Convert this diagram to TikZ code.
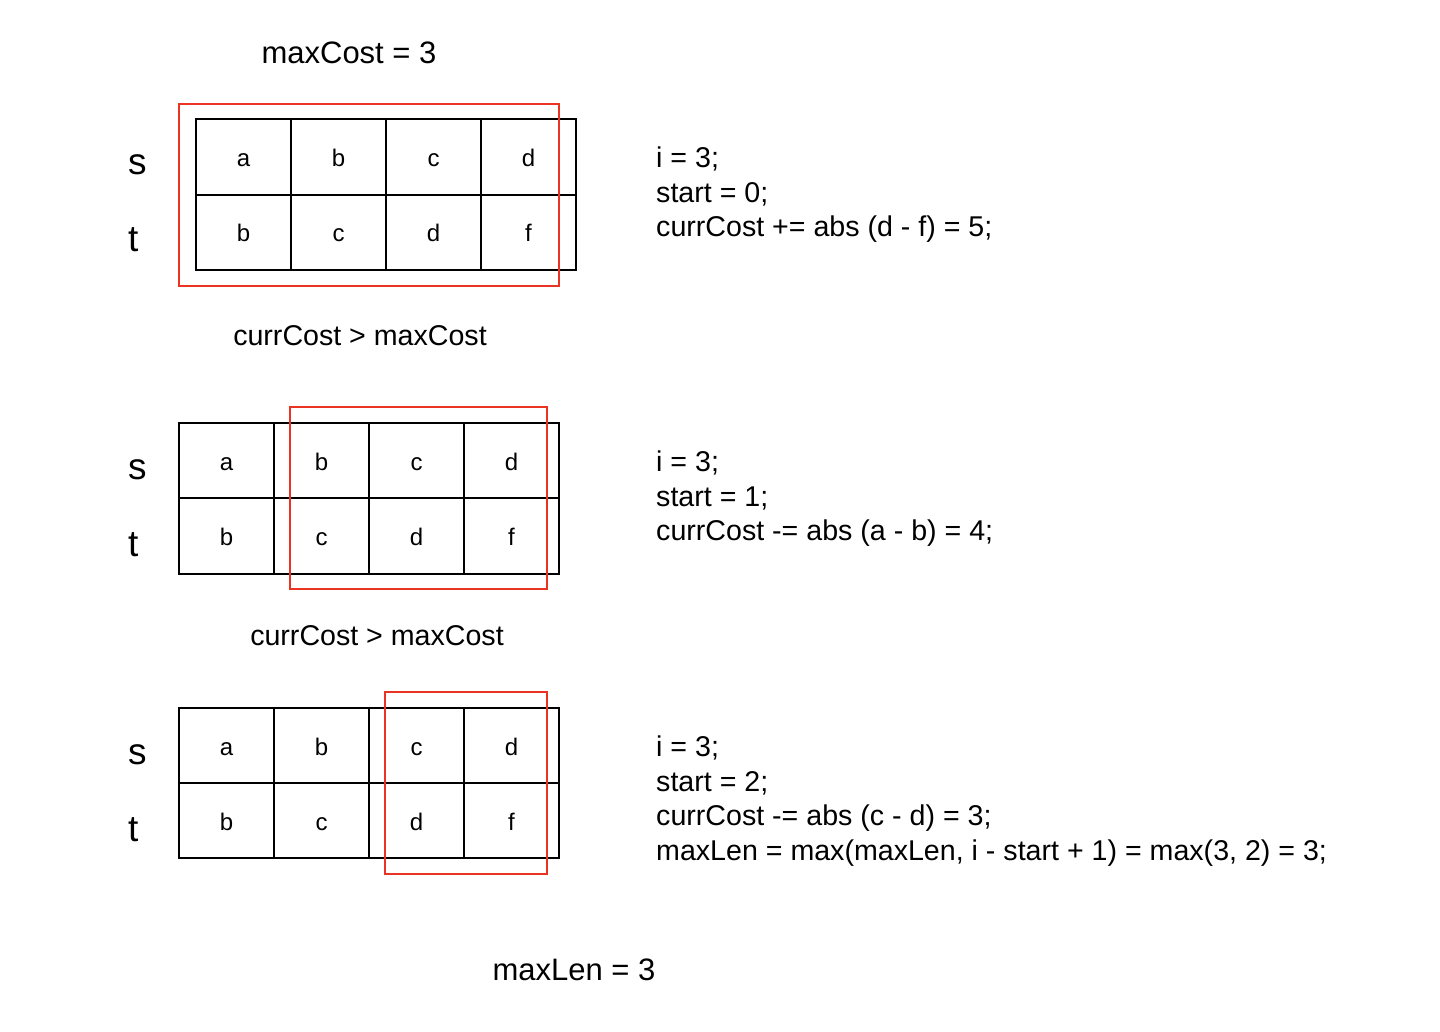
\documentclass[tikz,border=0pt]{standalone}
\usepackage{fontspec}
\setmainfont{Liberation Sans}
\usepackage{tikz}
\usetikzlibrary{positioning}
\definecolor{winred}{RGB}{234, 51, 35}

\begin{document}
\begin{tikzpicture}[
    x=1pt, y=-1pt,
    cell/.style={rectangle, draw, line width=1.6pt, minimum width=95pt, minimum height=75.5pt, inner sep=0pt, text height=19pt, text depth=0pt, font=\fontsize{24}{28}\selectfont},
    window/.style={rectangle, draw=winred, line width=1.5pt, minimum height=182pt, inner sep=0pt},
    rowname/.style={anchor=base west, inner sep=0pt, font=\fontsize{37}{40}\selectfont},
    heading/.style={inner sep=0pt, font=\fontsize{31}{36}\selectfont},
    caption/.style={inner sep=0pt, font=\fontsize{28.6}{34.7}\selectfont},
    note/.style={anchor=north west, align=left, inner sep=0pt, font=\fontsize{28.6}{34.7}\selectfont},
]
    \useasboundingbox (0,0) rectangle (1440,1032);

    % Title
    \node[heading] (cap) at (349, 53) {maxCost = 3};

    % === STEP 1 ===
    \node[rowname] (s1) at (128, 175) {s};
    \node[rowname] (t1) at (128, 252) {t};
    \foreach \schar/\tchar [count=\k from 0] in {a/b, b/c, c/d, d/f} {
        \node[cell] (sA\k) at (243.5+95*\k, 157) {\schar};
        \node[cell] (tA\k) at (243.5+95*\k, 232.5) {\tchar};
    }
    \node[window, minimum width=380pt] (win1) at (369, 195) {};
    \node[note] (n1) at (656, 146.5) {i = 3;\\start = 0;\\currCost += abs (d - f) = 5;};
    \node[caption] (c1) at (360, 336) {currCost > maxCost};

    % === STEP 2 ===
    \node[rowname] (s2) at (128, 479) {s};
    \node[rowname] (t2) at (128, 556) {t};
    \foreach \schar/\tchar [count=\k from 0] in {a/b, b/c, c/d, d/f} {
        \node[cell] (sB\k) at (226.5+95*\k, 460.5) {\schar};
        \node[cell] (tB\k) at (226.5+95*\k, 536) {\tchar};
    }
    \node[window, minimum width=257pt] (win2) at (418.5, 498) {};
    \node[note] (n2) at (656, 450.5) {i = 3;\\start = 1;\\currCost -= abs (a - b) = 4;};
    \node[caption] (c2) at (377, 636) {currCost > maxCost};

    % === STEP 3 ===
    \node[rowname] (s3) at (128, 764) {s};
    \node[rowname] (t3) at (128, 841) {t};
    \foreach \schar/\tchar [count=\k from 0] in {a/b, b/c, c/d, d/f} {
        \node[cell] (sC\k) at (226.5+95*\k, 745.5) {\schar};
        \node[cell] (tC\k) at (226.5+95*\k, 820.5) {\tchar};
    }
    \node[window, minimum width=162pt] (win3) at (466, 783) {};
    \node[note] (n3) at (656, 735.5) {i = 3;\\start = 2;\\currCost -= abs (c - d) = 3;\\maxLen = max(maxLen, i - start + 1) = max(3, 2) = 3;};

    % Result
    \node[heading] (res) at (574, 970) {maxLen = 3};

\end{tikzpicture}
\end{document}
